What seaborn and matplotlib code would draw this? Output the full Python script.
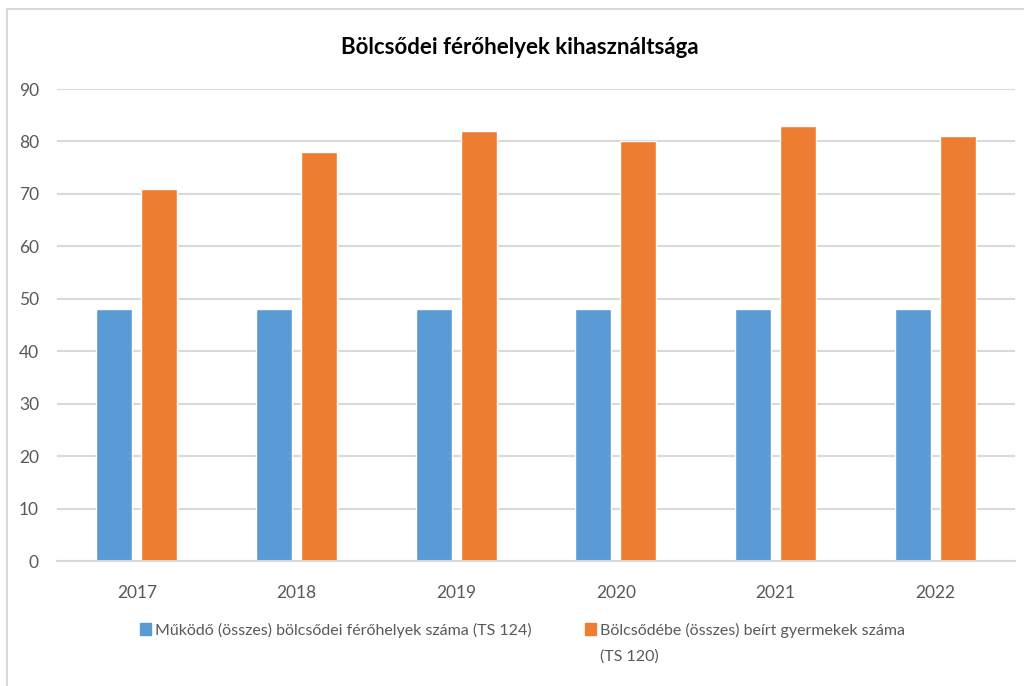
import matplotlib
matplotlib.use("Agg")
import matplotlib.pyplot as plt
import matplotlib.patches as mpatches
import seaborn as sns
import pandas as pd

years = ["2017", "2018", "2019", "2020", "2021", "2022"]
series_names = ["Működő (összes) bölcsődei férőhelyek száma (TS 124)",
                "Bölcsődébe (összes) beírt gyermekek száma"]
series2_cont = "(TS 120)"
places = [48, 48, 48, 48, 48, 48]
children = [71, 78, 82, 80, 83, 81]
yticks = [0, 10, 20, 30, 40, 50, 60, 70, 80, 90]
title = "Bölcsődei férőhelyek kihasználtsága"

df = pd.DataFrame({
    "year": years * 2,
    "value": places + children,
    "series": [series_names[0]] * len(years) + [series_names[1]] * len(years),
})

sns.set_theme(style="white")
plt.rcParams['font.family'] = ['Lato', 'DejaVu Sans']

fig = plt.figure(figsize=(10.24, 6.86), dpi=100)
ax = fig.add_axes([57/1024, 1 - 561/686, 958/1024, (561-89)/686])

palette = ["#5B9BD5", "#ED7D31"]
sns.barplot(data=df, x="year", y="value", hue="series", palette=palette,
            width=0.564, gap=0.2, ax=ax, legend=False, saturation=1)

ax.set_ylim(0, 90)
ax.set_yticks(yticks)
ax.set_xlim(-0.5, 5.5)
ax.grid(axis="y", color="#d9d9d9", linewidth=1.5)
ax.set_axisbelow(True)
for s in ["top", "right", "left"]:
    ax.spines[s].set_visible(False)
ax.spines["bottom"].set_color("#d9d9d9")
ax.spines["bottom"].set_linewidth(1.5)
ax.tick_params(axis="both", length=0, labelsize=12.5, colors="#595959")
ax.tick_params(axis="y", pad=13)
ax.tick_params(axis="x", pad=17)
ax.set_xlabel("")
ax.set_ylabel("")

fig.text(520/1024, 1 - 48/686, title, ha="center", va="center",
         fontsize=16, fontweight="bold", color="#000000")

handles = [mpatches.Patch(color=palette[0], label=series_names[0]),
           mpatches.Patch(color=palette[1], label=series_names[1])]
leg = fig.legend(handles=handles, loc="center left", bbox_to_anchor=(140/1024, 1 - 630/686),
                 ncol=2, frameon=False, fontsize=11.5, handlelength=0.7, handleheight=0.7,
                 handletextpad=0.25, columnspacing=3.3, labelcolor="#595959",
                 borderpad=0, borderaxespad=0)

fig.canvas.draw()
tb = leg.get_texts()[1].get_window_extent()
fig.text(tb.x0 / 1024, 1 - 657/686, series2_cont, ha="left", va="center",
         fontsize=11.5, color="#595959")

fig.patches.append(mpatches.Rectangle((7/1024, -0.05), 1.05, 1 - 9/686 + 0.05,
                                      transform=fig.transFigure, fill=False,
                                      edgecolor="#d9d9d9", linewidth=1.5))

fig.savefig("out.png", dpi=100)
